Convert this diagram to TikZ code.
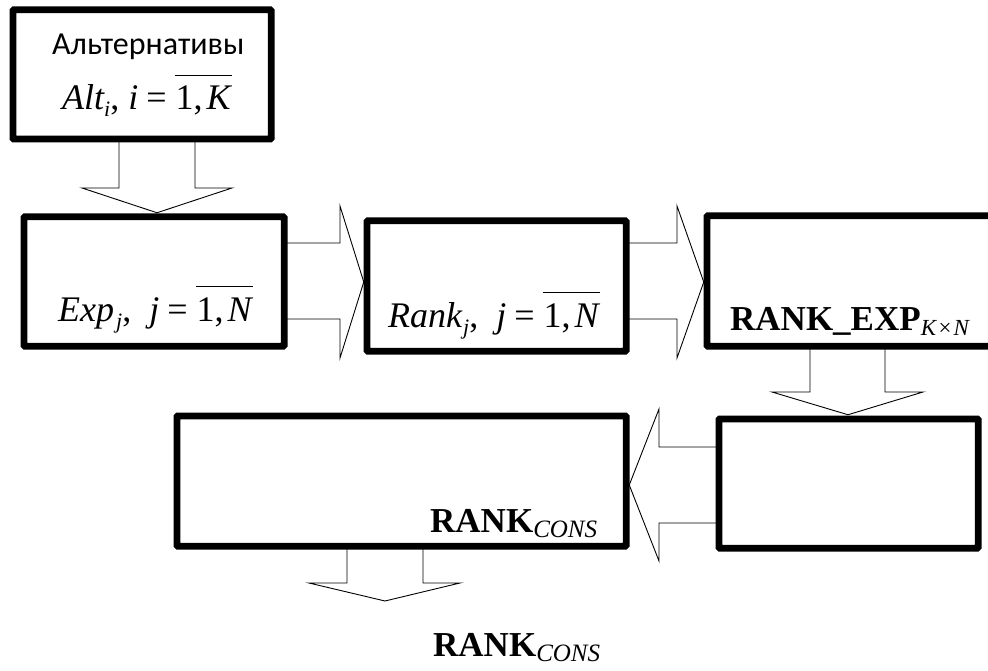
\documentclass[tikz,border=0pt]{standalone}
\usepackage{fontspec}
\setmainfont{Liberation Serif}
\newfontfamily\calfont{Carlito}
\usetikzlibrary{calc}
% subscript: #1 size, #2 drop, #3 text
\newcommand{\sbx}[3]{\raisebox{-#2}{\fontsize{#1}{#1}\selectfont #3}}
\newcommand{\ovln}[1]{\setbox0=\hbox{#1}\rlap{\hspace{-1pt}\raisebox{34pt}{\rule{\dimexpr\wd0+2pt\relax}{1.4pt}}}\box0}
\tikzset{
  blockbox/.style={draw, line width=4.5pt, fill=white, rounded corners=1.5pt, inner sep=0pt, anchor=center},
  blockarrow/.style={draw, line width=0.9pt, fill=white, line join=miter},
  lbl/.style={anchor=base west, inner sep=0pt, font=\fontsize{36}{38}\selectfont},
  lblb/.style={anchor=base west, inner sep=0pt, font=\fontsize{35}{38}\selectfont}
}
\begin{document}
\begin{tikzpicture}[x=1pt, y=-1pt]
\useasboundingbox (0,0) rectangle (988,671);
\node[blockbox, minimum width=256pt, minimum height=127pt] (b1) at (142,74.5) {};
\node[blockbox, minimum width=258pt, minimum height=127pt] (b2) at (154,281.5) {};
\node[blockbox, minimum width=257pt, minimum height=128pt] (b3) at (496.5,286) {};
\node[blockbox, minimum width=284pt, minimum height=128pt] (b4) at (850,281) {};
\node[blockbox, minimum width=257pt, minimum height=127pt] (b5) at (848.5,483.5) {};
\node[blockbox, minimum width=447pt, minimum height=128pt] (b6) at (401.5,481) {};
\coordinate (out) at (385,601);
% arrows
\path[blockarrow] (119,0 |- b1.south) -- (119,188) -- (82,188) -- ($(157,0 |- b2.north)+(0,-3)$) -- (232,188) -- (195,188) -- (195,0 |- b1.south);
\path[blockarrow] (b2.east |- 0,243) -- (340,243) -- (340,206) -- ($(b3.west |- 0,282)+(-2,0)$) -- (340,358) -- (340,319) -- (b2.east |- 0,319);
\path[blockarrow] (b3.east |- 0,243) -- (677,243) -- (677,206) -- ($(b4.west |- 0,282)+(-2,0)$) -- (677,358) -- (677,319) -- (b3.east |- 0,319);
\path[blockarrow] (810,0 |- b4.south) -- (810,392) -- (772,392) -- ($(848,0 |- b5.north)+(0,-3)$) -- (923,392) -- (885,392) -- (885,0 |- b4.south);
\path[blockarrow] (b5.west |- 0,447) -- (659,447) -- (659,409) -- ($(b6.east |- 0,485)+(2,0)$) -- (659,561) -- (659,523) -- (b5.west |- 0,523);
\path[blockarrow] (347,0 |- b6.south) -- (347,583) -- (309,583) -- (out) -- (460,583) -- (423,583) -- (423,0 |- b6.south);
% box borders on top of arrow ends
\foreach \b in {b1,b2,b3,b4,b5,b6} {
  \draw[line width=4.5pt, rounded corners=1.5pt] (\b.north west) rectangle (\b.south east);
}
% texts
\node[anchor=base west, inner sep=0pt, font=\calfont\fontsize{32}{34}\selectfont] (t1a) at (52,55) {Альтернативы};
\node[lbl] (t1b) at (62,110) {{\itshape Alt}\sbx{22}{7pt}{\itshape i},\hspace{9pt}{\itshape i}\hspace{8pt}=\hspace{9pt}\ovln{1,\hspace{4pt}{\itshape K}}};
\node[lbl] (t2) at (58,321) {{\itshape Exp}\hspace{2pt}\sbx{22}{7pt}{\itshape j},\hspace{18pt}{\itshape j}\hspace{8pt}=\hspace{9pt}\ovln{1,\hspace{4pt}{\itshape N}}};
\node[lbl] (t3) at (388,327) {{\itshape Rank}\hspace{1pt}\sbx{22}{7pt}{\itshape j},\hspace{18pt}{\itshape j}\hspace{8pt}=\hspace{9pt}\ovln{1,\hspace{4pt}{\itshape N}}};
\node[lblb] (t4) at (730,330) {{\bfseries RANK\_EXP}\sbx{23}{5pt}{\itshape K\hspace{1pt}×\hspace{1pt}N}};
\node[lblb] (t6) at (430,532) {{\bfseries RANK}\sbx{25}{5pt}{\itshape CONS}};
\node[lblb] (t7) at (433,656) {{\bfseries RANK}\sbx{25}{5pt}{\itshape CONS}};
\end{tikzpicture}
\end{document}
